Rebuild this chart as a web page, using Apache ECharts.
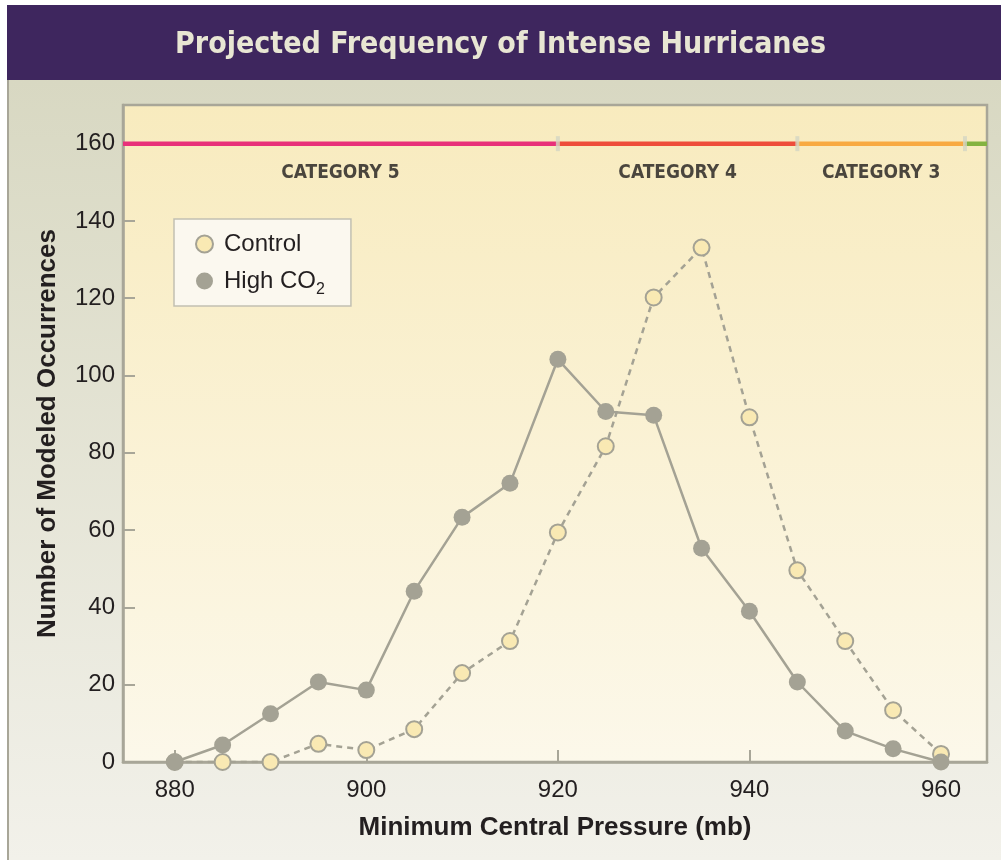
<!DOCTYPE html>
<html>
<head>
<meta charset="utf-8">
<script src="https://cdn.jsdelivr.net/npm/echarts@6/dist/echarts.min.js"></script>
<style>
  html, body { margin: 0; padding: 0; background: #fff; }
  #main { width: 1001px; height: 860px; }
</style>
</head>
<body>
<div id="main"></div>
<script>
// pressure bins (mb)
const pressures = [880, 885, 890, 895, 900, 905, 910, 915, 920, 925, 930, 935, 940, 945, 950, 955, 960];
const controlVals = [0, 0, 0, 4.7, 3.1, 8.5, 23, 31.3, 59.4, 81.7, 120.2, 133.1, 89.2, 49.6, 31.3, 13.4, 2.1];
const highCO2Vals = [0, 4.4, 12.5, 20.7, 18.6, 44.2, 63.3, 72.1, 104.2, 90.7, 89.7, 55.3, 39, 20.7, 8, 3.4, 0];

const xTicks = [880, 900, 920, 940, 960];
const yTicks = [0, 20, 40, 60, 80, 100, 120, 140, 160];

// saffir-simpson bands drawn along the 160 line
const catEdges = [874.6, 920, 945, 962.5, 964.8];
const catNames = ['CATEGORY 5', 'CATEGORY 4', 'CATEGORY 3', ''];
const catColors = ['#e8317a', '#ee4d3b', '#f8aa42', '#84b341'];
const catLineY = 160;
const catLabelY = 152.5;

const narrow = "'Liberation Sans Narrow', 'DejaVu Sans Condensed', sans-serif";
const sans = "'Liberation Sans', Arial, sans-serif";
const gray = '#a4a294';

const chart = echarts.init(document.getElementById('main'));

const bandSeries = catColors.map((c, i) => ({
  type: 'line',
  silent: true,
  symbol: 'none',
  z: 3,
  lineStyle: { color: c, width: 4.5 },
  data: [[catEdges[i], catLineY], [catEdges[i + 1], catLineY]]
}));

const option = {
  animation: false,
  backgroundColor: '#ffffff',
  graphic: [
    {
      type: 'rect', z: -10,
      shape: { x: 7, y: 80, width: 994, height: 780 },
      style: {
        fill: new echarts.graphic.LinearGradient(0, 0, 0, 1, [
          { offset: 0, color: '#d8d8c2' },
          { offset: 1, color: '#f2f1ea' }
        ])
      }
    },
    {
      type: 'line', z: -9,
      shape: { x1: 8, y1: 80, x2: 8, y2: 860 },
      style: { stroke: '#a8a698', lineWidth: 2 }
    },
    {
      type: 'rect', z: -9,
      shape: { x: 7, y: 5, width: 994, height: 75 },
      style: { fill: '#3e265e' }
    }
  ],
  title: {
    text: 'Projected Frequency of Intense Hurricanes',
    left: 'center',
    top: 25,
    textStyle: { color: '#e8e6d3', fontSize: 30, fontWeight: 'bold', fontFamily: narrow }
  },
  legend: {
    data: ['Control', 'High CO2'],
    orient: 'vertical',
    left: 174,
    top: 219,
    width: 140,
    padding: [13, 26, 8, 21],
    itemGap: 13,
    itemWidth: 17,
    itemHeight: 17,
    backgroundColor: '#fbf8ef',
    borderColor: '#c2c0b2',
    borderWidth: 1.5,
    borderRadius: 0,
    icon: 'circle',
    formatter: name => name === 'High CO2' ? '{t|High CO}{s|2}' : '{t|' + name + '}',
    textStyle: {
      color: '#231f20',
      padding: [0, 0, 0, 6],
      rich: {
        t: { fontSize: 24, fontFamily: sans, color: '#231f20', lineHeight: 34 },
        s: { fontSize: 16, fontFamily: sans, color: '#231f20', lineHeight: 14, verticalAlign: 'bottom' }
      }
    }
  },
  grid: {
    left: 123,
    right: 14,
    top: 105,
    bottom: 98,
    show: true,
    borderColor: '#a8a698',
    borderWidth: 2.5,
    backgroundColor: new echarts.graphic.LinearGradient(0, 0, 0, 1, [
      { offset: 0, color: '#f8ebbe' },
      { offset: 1, color: '#fcf8ea' }
    ])
  },
  xAxis: {
    type: 'value',
    min: 874.6,
    max: 964.8,
    name: 'Minimum Central Pressure (mb)',
    nameLocation: 'middle',
    nameGap: 53,
    nameTextStyle: { color: '#231f20', fontSize: 26, fontWeight: 'bold', fontFamily: sans },
    axisLine: { show: true, onZero: false, lineStyle: { color: '#a8a698', width: 2.5 } },
    axisTick: { show: true, inside: true, length: 12, customValues: xTicks, lineStyle: { color: '#a8a698', width: 2 } },
    axisLabel: { customValues: xTicks, color: '#231f20', fontSize: 24, fontFamily: sans, margin: 16 },
    splitLine: { show: false }
  },
  yAxis: {
    type: 'value',
    min: 0,
    max: 170,
    name: 'Number of Modeled Occurrences',
    nameLocation: 'middle',
    nameGap: 62,
    nameTextStyle: { color: '#231f20', fontSize: 26, fontWeight: 'bold', fontFamily: sans },
    axisLine: { show: true, lineStyle: { color: '#a8a698', width: 2.5 } },
    axisTick: { show: true, inside: true, length: 12, customValues: yTicks, lineStyle: { color: '#a8a698', width: 2 } },
    axisLabel: { customValues: yTicks, color: '#231f20', fontSize: 24, fontFamily: sans, margin: 8 },
    splitLine: { show: false }
  },
  series: [
    ...bandSeries,
    {
      type: 'scatter',
      silent: true,
      z: 4,
      symbol: 'rect',
      symbolSize: [4, 15],
      itemStyle: { color: '#d3d6c3' },
      data: catEdges.slice(1, 4).map(x => [x, catLineY])
    },
    {
      type: 'scatter',
      silent: true,
      z: 4,
      symbolSize: 0,
      label: {
        show: true,
        position: 'inside',
        formatter: p => p.value[2],
        color: '#1e1b1c',
        fontSize: 19,
        fontWeight: 'bold',
        fontFamily: narrow
      },
      data: catNames.slice(0, 3).map((n, i) => [(catEdges[i] + catEdges[i + 1]) / 2, catLabelY, n])
    },
    {
      name: 'Control',
      type: 'line',
      z: 5,
      symbol: 'circle',
      symbolSize: 16,
      lineStyle: { color: gray, width: 2.5, type: [6, 5] },
      itemStyle: { color: '#f9e9b3', borderColor: gray, borderWidth: 2 },
      data: pressures.map((p, i) => [p, controlVals[i]])
    },
    {
      name: 'High CO2',
      type: 'line',
      z: 6,
      symbol: 'circle',
      symbolSize: 17,
      lineStyle: { color: gray, width: 2.5 },
      itemStyle: { color: gray, borderWidth: 0 },
      data: pressures.map((p, i) => [p, highCO2Vals[i]])
    }
  ]
};

chart.setOption(option);
</script>
</body>
</html>
